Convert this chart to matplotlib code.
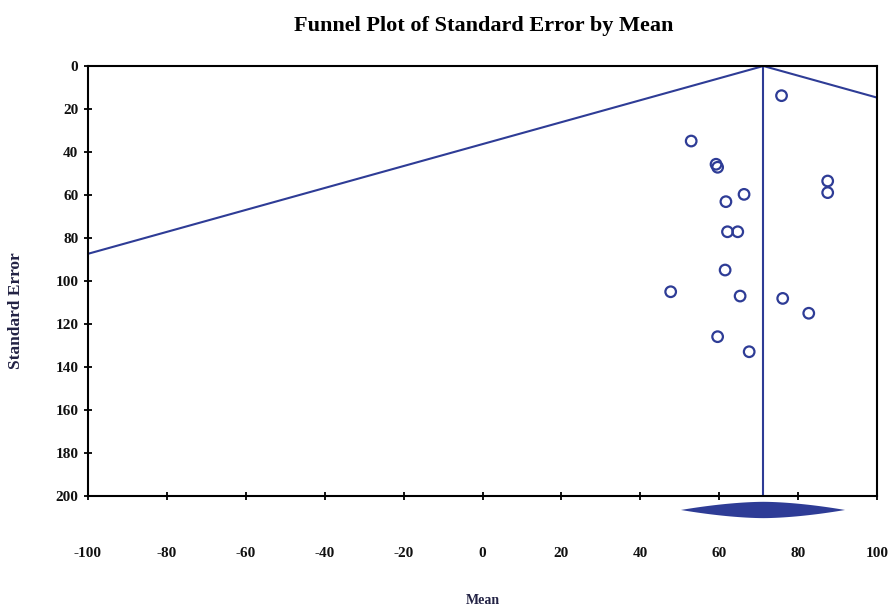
import matplotlib
matplotlib.use("Agg")
import matplotlib.pyplot as plt
import numpy as np

plt.rcParams['axes.unicode_minus'] = False

# Data
study_mean = [75.8, 52.9, 59.2, 59.6, 61.7, 66.3, 87.5, 87.5, 62.1, 64.7,
              61.5, 47.7, 65.3, 76.1, 82.7, 59.6, 67.6]
study_se = [13.8, 34.9, 45.7, 47.1, 63.1, 59.7, 53.5, 58.9, 77.1, 77.1,
            94.9, 105.0, 107.0, 108.1, 115.0, 125.9, 132.9]
summary_mean = 71.2
ci_low, ci_high = 50.3, 91.9
x_ticks = [-100, -80, -60, -40, -20, 0, 20, 40, 60, 80, 100]
y_ticks = [0, 20, 40, 60, 80, 100, 120, 140, 160, 180, 200]

blue = '#2E3C96'
font = 'Liberation Serif'

fig = plt.figure(figsize=(8.89, 6.08), dpi=100)
ax = fig.add_axes([88/889, 1-496/608, (877-88)/889, (496-66)/608])

ax.set_xlim(-100, 100)
ax.set_ylim(200, 0)

# funnel lines
se_line = np.array([0, 200])
ax.plot(summary_mean - 1.96*se_line, se_line, color=blue, lw=1.5)
ax.plot(summary_mean + 1.96*se_line, se_line, color=blue, lw=1.5)
ax.plot([summary_mean, summary_mean], [0, 200], color=blue, lw=1.5)

ax.scatter(study_mean, study_se, s=58, facecolors='none', edgecolors=blue,
           linewidths=1.6, zorder=3)

# summary diamond (below axis)
yc, hh = 206.5, 3.8
t = np.linspace(-1, 1, 41)
xs = summary_mean + np.where(t < 0, t*(summary_mean-ci_low), t*(ci_high-summary_mean))
hs = hh*(1-np.abs(t)**1.7)
px = np.concatenate([xs, xs[::-1]])
py = np.concatenate([yc-hs, (yc+hs)[::-1]])
ax.fill(px, py, color=blue, clip_on=False, zorder=4, lw=0)

for s in ax.spines.values():
    s.set_color('black')
    s.set_linewidth(1.5)

ax.set_xticks(x_ticks)
ax.set_yticks(y_ticks)
ax.tick_params(axis='both', direction='inout', length=6, width=1.3,
               color='black', labelsize=11)
ax.tick_params(axis='x', pad=34)
ax.tick_params(axis='y', pad=4)
for lab in ax.get_xticklabels() + ax.get_yticklabels():
    lab.set_fontfamily(font)
    lab.set_fontweight('bold')
    lab.set_color('#111111')

fig.text(484/889, 1-26/608, 'Funnel Plot of Standard Error by Mean',
         ha='center', va='center', fontsize=16, fontweight='bold', family=font)
fig.text(16/889, 1-311/608, 'Standard Error', rotation=90, ha='center',
         va='center', fontsize=12.5, fontweight='bold', family=font, color='#222244')
fig.text(483/889, 1-600/608, 'Mean', ha='center', va='center',
         fontsize=10, fontweight='bold', family=font, color='#222244')

fig.savefig('out.png', dpi=100)
